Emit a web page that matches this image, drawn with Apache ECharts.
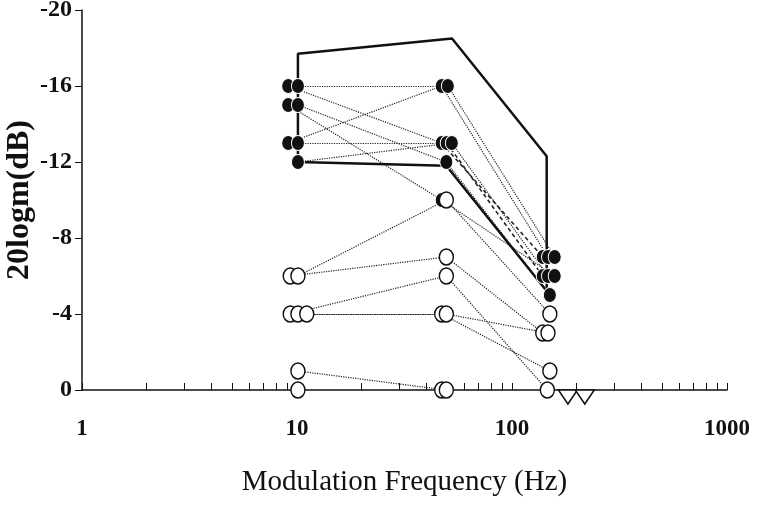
<!DOCTYPE html>
<html>
<head>
<meta charset="utf-8">
<script src="https://cdn.jsdelivr.net/npm/echarts@6/dist/echarts.min.js"></script>
<style>
  html, body { margin: 0; padding: 0; background: #fff; }
  #chart { width: 762px; height: 517px; }
</style>
</head>
<body>
<div id="chart"></div>
<script>
// one entry per subject (S1..S7 filled markers, S8..S14 open markers)
// frequencies are slightly spread round 10, 50 and 150 Hz as in the figure
const freq10   = [10.1, 9.1, 10.1, 9.1, 9.1, 10.1, 10.1, 10.1, 9.3, 9.3, 10.1, 11.1, 10.1, 10.1];
const level10  = [-16, -16, -15, -15, -13, -13, -12, -6, -6, -4, -4, -4, -1, 0];
const freq50   = [50.3, 47.1, 49.5, 47.1, 47.1, 49.7, 52.5, 49.5, 49.5, 49.5, 49.5, 47.1, 49.5, 47.1];
const level50  = [-16, -13, -12, -10, -16, -13, -13, -10, -7, -6, -4, -4, 0, 0];
const freq150  = [158, 139, 150, 158, 147, 139, 147, 150, 139, 146, 147, 150, 182, 218];
const level150 = [-7, -7, -5, -6, -7, -6, -6, -4, -3, 0, -3, -1, 0, 0];
const filled   = [true, true, true, true, true, true, true, false, false, false, false, false, false, false];
const noResp150 = [false, false, false, false, false, false, false, false, false, false, false, false, true, true];
const dashed2  = [false, true, false, false, false, true, false, false, false, false, false, false, false, false];

// thick outline and thick inner line
const envFreq  = [10.1, 10.1, 52.6, 145, 145];
const envLevel = [-12, -17.7, -18.5, -12.3, -5.1];
const innerFreq  = [10.1, 49.5, 150];
const innerLevel = [-12, -11.8, -5];

const xLabels = [1, 10, 100, 1000];
const xTicks = [1, 2, 3, 4, 5, 6, 7, 8, 9, 10, 20, 30, 40, 50, 60, 70, 80, 90, 100,
                200, 300, 400, 500, 600, 700, 800, 900, 1000];

const font = 'Liberation Serif';

const segments = [];
const filledPts = [];
const openPts = [];
const triPts = [];
for (let i = 0; i < level10.length; i++) {
  segments.push({
    coords: [[freq10[i], level10[i]], [freq50[i], level50[i]]],
    lineStyle: { type: 'dotted', width: 1.2 }
  });
  segments.push({
    coords: [[freq50[i], level50[i]], [freq150[i], level150[i]]],
    lineStyle: dashed2[i] ? { type: [4, 3], width: 1.6 } : { type: 'dotted', width: 1.2 }
  });
  const pts = [[freq10[i], level10[i]], [freq50[i], level50[i]]];
  if (noResp150[i]) triPts.push([freq150[i], level150[i]]);
  else pts.push([freq150[i], level150[i]]);
  (filled[i] ? filledPts : openPts).push(...pts);
}
// draw left-most first so right circles sit on top
filledPts.sort((a, b) => a[0] - b[0]);
openPts.sort((a, b) => a[0] - b[0]);

const chart = echarts.init(document.getElementById('chart'));
chart.setOption({
  animation: false,
  backgroundColor: '#fff',
  grid: { left: 82, right: 35, top: 10, bottom: 127, outerBoundsMode: 'none' },
  xAxis: {
    type: 'log',
    logBase: 10,
    min: 1,
    max: 1000,
    name: 'Modulation Frequency (Hz)',
    nameLocation: 'middle',
    nameGap: 78,
    nameMoveOverlap: false,
    nameTextStyle: { fontFamily: font, fontSize: 29, color: '#111' },
    axisLine: { show: true, lineStyle: { color: '#111', width: 1.5 } },
    axisTick: { show: true, inside: true, length: 7, customValues: xTicks, lineStyle: { color: '#111' } },
    axisLabel: {
      customValues: xLabels,
      formatter: v => String(v),
      margin: 28, fontFamily: font, fontWeight: 'bold', fontSize: 23, color: '#111'
    },
    splitLine: { show: false }
  },
  yAxis: {
    type: 'value',
    inverse: true,
    min: -20,
    max: 0,
    interval: 4,
    name: '20logm(dB)',
    nameLocation: 'middle',
    nameGap: 46,
    nameMoveOverlap: false,
    nameTextStyle: { fontFamily: font, fontWeight: 'bold', fontSize: 32, color: '#111' },
    axisLine: { show: true, lineStyle: { color: '#111', width: 1.5 } },
    axisTick: { show: true, length: 7, lineStyle: { color: '#111' } },
    axisLabel: { margin: 10, fontFamily: font, fontWeight: 'bold', fontSize: 24, color: '#111' },
    splitLine: { show: false }
  },
  series: [
    {
      type: 'lines',
      coordinateSystem: 'cartesian2d',
      data: segments,
      lineStyle: { color: '#222', opacity: 1 },
      silent: true,
      z: 2
    },
    {
      type: 'line',
      data: envFreq.map((f, i) => [f, envLevel[i]]),
      symbol: 'none',
      lineStyle: { color: '#111', width: 2.5 },
      z: 3
    },
    {
      type: 'line',
      data: innerFreq.map((f, i) => [f, innerLevel[i]]),
      symbol: 'none',
      lineStyle: { color: '#111', width: 2.5 },
      z: 3
    },
    {
      type: 'scatter',
      data: filledPts,
      symbol: 'circle',
      symbolSize: [13, 15],
      itemStyle: { color: '#111', borderColor: '#fff', borderWidth: 1, opacity: 1 },
      z: 4
    },
    {
      type: 'scatter',
      data: openPts,
      symbol: 'circle',
      symbolSize: [14, 16],
      itemStyle: { color: '#fff', borderColor: '#111', borderWidth: 1.5, opacity: 1 },
      z: 5
    },
    {
      type: 'scatter',
      data: triPts,
      symbol: 'triangle',
      symbolRotate: 180,
      symbolSize: [19, 14],
      symbolOffset: [0, 7],
      itemStyle: { color: '#fff', borderColor: '#111', borderWidth: 1.5, opacity: 1 },
      z: 5
    }
  ]
});
</script>
</body>
</html>
